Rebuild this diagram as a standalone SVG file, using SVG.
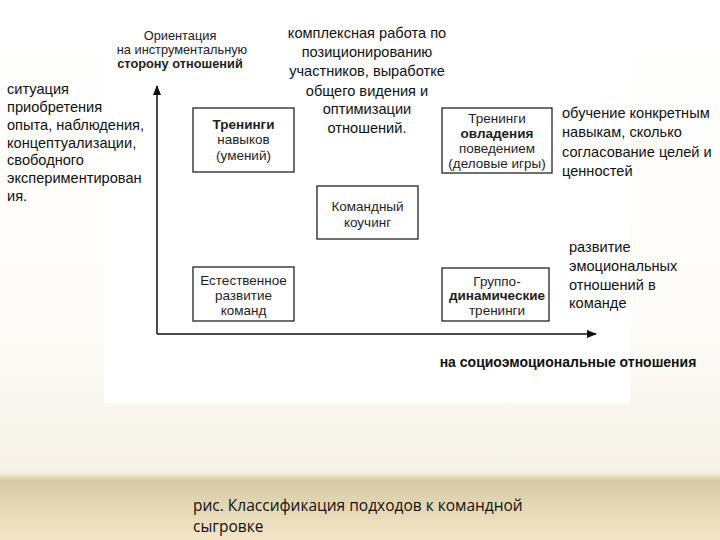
<svg xmlns="http://www.w3.org/2000/svg" width="720" height="540" viewBox="0 0 720 540">
<defs>
<linearGradient id="bg" x1="0" y1="0" x2="0" y2="1">
<stop offset="0" stop-color="#ffffff"/>
<stop offset="0.6" stop-color="#fdfcf8"/>
<stop offset="0.86" stop-color="#f7f3e8"/>
<stop offset="0.875" stop-color="#f4efe0"/>
<stop offset="0.89" stop-color="#d6c9a4"/>
<stop offset="0.93" stop-color="#e2d5b2"/>
<stop offset="1" stop-color="#f4e6c6"/>
</linearGradient>
<marker id="arr" markerWidth="10" markerHeight="8" refX="9" refY="4" orient="auto" markerUnits="userSpaceOnUse">
<path d="M0,0 L10,4 L0,8 Z" fill="#111"/>
</marker>
<style>
.box{fill:#fff;stroke:#222;stroke-width:1.3}
.bl{font-family:"Liberation Sans",Arial,sans-serif;font-size:13.5px;fill:#1e1e1e;text-anchor:middle}
.note{font-family:"Liberation Sans",Arial,sans-serif;font-size:14.6px;fill:#111}
.ax{font-family:"Liberation Sans",Arial,sans-serif;font-size:12.8px;fill:#222;text-anchor:middle}
.axis{stroke:#111;stroke-width:1.5;fill:none}
</style>
</defs>
<rect x="0" y="0" width="720" height="540" fill="url(#bg)"/>
<rect x="104" y="0" width="526" height="403" fill="#ffffff"/>

<g id="axis-title">
<text class="ax" x="180" y="40" font-size="14px">Ориентация</text>
<text class="ax" x="182" y="54">на инструментальную</text>
<text class="ax" x="180" y="68" font-weight="bold">сторону отношений</text>
</g>

<g id="connectors">
<line class="axis" x1="157" y1="334" x2="157" y2="86" marker-end="url(#arr)"/>
<line class="axis" x1="157" y1="334" x2="596" y2="334" marker-end="url(#arr)"/>
</g>

<g id="node-skills">
<rect class="box" x="193" y="108" width="101" height="64"/>
<text class="bl" x="243.5" y="129" font-weight="bold">Тренинги</text>
<text class="bl" x="243.5" y="144">навыков</text>
<text class="bl" x="243.5" y="160">(умений)</text>
</g>

<g id="node-behavior">
<rect class="box" x="442" y="108" width="110" height="65"/>
<text class="bl" x="497" y="123">Тренинги</text>
<text class="bl" x="497" y="138" font-weight="bold">овладения</text>
<text class="bl" x="497" y="153">поведением</text>
<text class="bl" x="497" y="168">(деловые игры)</text>
</g>

<g id="node-coaching">
<rect class="box" x="317" y="186" width="101" height="53"/>
<text class="bl" x="367.5" y="211">Командный</text>
<text class="bl" x="367.5" y="227">коучинг</text>
</g>

<g id="node-natural">
<rect class="box" x="193" y="267" width="101" height="54"/>
<text class="bl" x="243.5" y="285">Естественное</text>
<text class="bl" x="243.5" y="300">развитие</text>
<text class="bl" x="243.5" y="315">команд</text>
</g>

<g id="node-groupdyn">
<rect class="box" x="442" y="268" width="107" height="53"/>
<text class="bl" x="497" y="286">Группо-</text>
<text class="bl" x="497" y="300" font-weight="bold">динамические</text>
<text class="bl" x="497" y="315">тренинги</text>
</g>

<g id="note-left">
<text class="note" x="7" y="94">ситуация</text>
<text class="note" x="7" y="112">приобретения</text>
<text class="note" x="7" y="130">опыта, наблюдения,</text>
<text class="note" x="7" y="148">концептуализации,</text>
<text class="note" x="7" y="165">свободного</text>
<text class="note" x="7" y="183">экспериментирован</text>
<text class="note" x="7" y="201">ия.</text>
</g>

<g id="note-top" text-anchor="middle">
<text class="note" x="367" y="38">комплексная работа по</text>
<text class="note" x="367" y="57">позиционированию</text>
<text class="note" x="367" y="76">участников, выработке</text>
<text class="note" x="367" y="96">общего видения и</text>
<text class="note" x="367" y="114">оптимизации</text>
<text class="note" x="367" y="133">отношений.</text>
</g>

<g id="note-right">
<text class="note" x="562" y="118">обучение конкретным</text>
<text class="note" x="562" y="137">навыкам, сколько</text>
<text class="note" x="562" y="157">согласование целей и</text>
<text class="note" x="562" y="176">ценностей</text>
</g>

<g id="note-emotional">
<text class="note" x="569" y="252">развитие</text>
<text class="note" x="569" y="271">эмоциональных</text>
<text class="note" x="569" y="290">отношений в</text>
<text class="note" x="569" y="308">команде</text>
</g>

<text x="568" y="367" font-family="'Liberation Sans',Arial,sans-serif" font-size="14px" font-weight="bold" fill="#111" text-anchor="middle">на социоэмоциональные отношения</text>

<g id="caption" font-family="'Open Sans','Liberation Sans',sans-serif" font-size="15.5px" fill="#111">
<text x="193" y="511">рис. Классификация подходов к командной</text>
<text x="193" y="532">сыгровке</text>
</g>
</svg>
